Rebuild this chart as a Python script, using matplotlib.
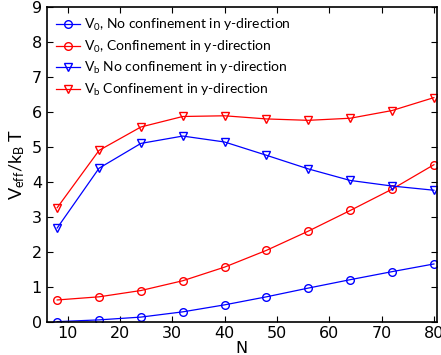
import matplotlib
matplotlib.use('Agg')
import matplotlib.pyplot as plt

N = [8, 16, 24, 32, 40, 48, 56, 64, 72, 80]
v0_noconf = [0.0, 0.05, 0.13, 0.28, 0.48, 0.71, 0.96, 1.2, 1.43, 1.65]
v0_conf = [0.62, 0.71, 0.89, 1.17, 1.56, 2.04, 2.59, 3.18, 3.79, 4.49]
vb_noconf = [2.68, 4.39, 5.1, 5.31, 5.14, 4.76, 4.37, 4.04, 3.88, 3.76]
vb_conf = [3.26, 4.9, 5.57, 5.87, 5.89, 5.8, 5.76, 5.82, 6.04, 6.41]

labels = [r'V$_0$, No confinement in y-direction',
          r'V$_0$, Confinement in y-direction',
          r'V$_\mathrm{b}$ No confinement in y-direction',
          r'V$_\mathrm{b}$ Confinement in y-direction']

plt.rcParams['font.family'] = 'DejaVu Sans'
plt.rcParams['mathtext.fontset'] = 'custom'
plt.rcParams['mathtext.rm'] = 'Lato'
plt.rcParams['mathtext.it'] = 'Lato'
plt.rcParams['mathtext.default'] = 'rm'

fig = plt.figure(figsize=(4.41, 3.55), dpi=100)
ax = fig.add_axes([0.106, 0.094, 0.885, 0.886])

ax.plot(N, v0_noconf, color='blue', marker='o', mfc='none', ms=5.5, lw=0.9, label=labels[0])
ax.plot(N, v0_conf, color='red', marker='o', mfc='none', ms=5.5, lw=0.9, label=labels[1])
ax.plot(N, vb_noconf, color='blue', marker='v', mfc='none', ms=6, lw=0.9, label=labels[2])
ax.plot(N, vb_conf, color='red', marker='v', mfc='none', ms=6, lw=0.9, label=labels[3])

ax.set_xlim(6, 80.6)
ax.set_ylim(0, 9)
ax.set_xticks([10, 20, 30, 40, 50, 60, 70, 80])
ax.set_yticks(range(10))
ax.tick_params(direction='in', top=True, right=True, labelsize=11.5, length=4)
for s in ax.spines.values():
    s.set_linewidth(1.2)
ax.set_xlabel('N', fontsize=11.5, labelpad=0)
ax.set_ylabel(r'V$_\mathrm{eff}$/k$_\mathrm{B}$ T', fontsize=13, labelpad=3, family='Lato')

ax.legend(loc='upper left', frameon=False, prop={'family': 'Lato', 'size': 10},
          handlelength=1.7, borderaxespad=0.3, borderpad=0.4,
          labelspacing=0.4, handletextpad=0.25)

fig.savefig('out.png', dpi=100)
